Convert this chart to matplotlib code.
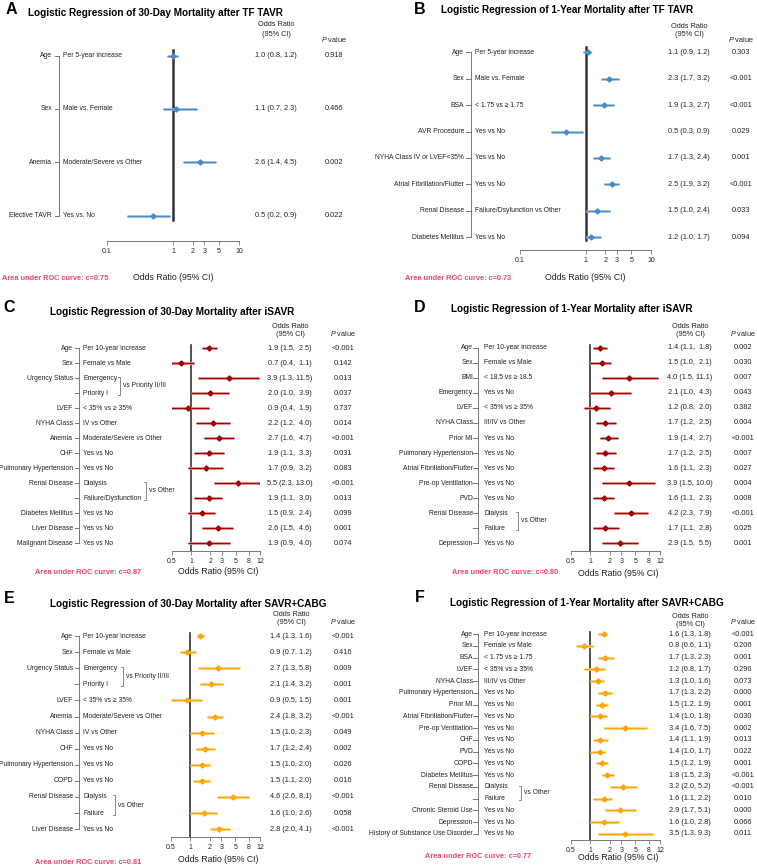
import numpy as np
import matplotlib
matplotlib.use("Agg")
import matplotlib.pyplot as plt
from matplotlib import transforms
from matplotlib.lines import Line2D

# ---------------------------------------------------
# DATA
# ---------------------------------------------------

# A: 30-day mortality after TF TAVR
a_title = "Logistic Regression of 30-Day Mortality after TF TAVR"
a_labels = ["Age", "Sex", "Anemia", "Elective TAVR"]
a_subs = ["Per 5-year increase", "Male vs. Female", "Moderate/Severe vs Other", "Yes vs. No"]
a_or = [1.0, 1.1, 2.6, 0.5]
a_lo = [0.8, 0.7, 1.4, 0.2]
a_hi = [1.2, 2.3, 4.5, 0.9]
a_p = ["0.918", "0.466", "0.002", "0.022"]
a_groups = []
a_auc = "Area under ROC curve: c=0.75"

# B: 1-year mortality after TF TAVR
b_title = "Logistic Regression of 1-Year Mortality after TF TAVR"
b_labels = ["Age", "Sex", "BSA", "AVR Procedure", "NYHA Class IV or LVEF<35%",
            "Atrial Fibrillation/Flutter", "Renal Disease", "Diabetes Mellitus"]
b_subs = ["Per 5-year increase", "Male vs. Female", "< 1.75 vs \u2265 1.75", "Yes vs No",
          "Yes vs No", "Yes vs No", "Failure/Dsyfunction vs Other", "Yes vs No"]
b_or = [1.1, 2.3, 1.9, 0.5, 1.7, 2.5, 1.5, 1.2]
b_lo = [0.9, 1.7, 1.3, 0.3, 1.3, 1.9, 1.0, 1.0]
b_hi = [1.2, 3.2, 2.7, 0.9, 2.4, 3.2, 2.4, 1.7]
b_p = ["0.303", "<0.001", "<0.001", "0.029", "0.001", "<0.001", "0.033", "0.094"]
b_groups = []
b_auc = "Area under ROC curve: c=0.73"

# C: 30-day mortality after iSAVR
c_title = "Logistic Regression of 30-Day Mortality after iSAVR"
c_labels = ["Age", "Sex", "Urgency Status", "", "LVEF", "NYHA Class", "Anemia", "CHF",
            "Pulmonary Hypertension", "Renal Disease", "", "Diabetes Mellitus",
            "Liver Disease", "Malignant Disease"]
c_subs = ["Per 10-year increase", "Female vs Male", "Emergency", "Priority I",
          "< 35% vs \u2265 35%", "IV vs Other", "Moderate/Severe vs Other", "Yes vs No",
          "Yes vs No", "Dialysis", "Failure/Dysfunction", "Yes vs No", "Yes vs No", "Yes vs No"]
c_or = [1.9, 0.7, 3.9, 2.0, 0.9, 2.2, 2.7, 1.9, 1.7, 5.5, 1.9, 1.5, 2.6, 1.9]
c_lo = [1.5, 0.4, 1.3, 1.0, 0.4, 1.2, 1.6, 1.1, 0.9, 2.3, 1.1, 0.9, 1.5, 0.9]
c_hi = [2.5, 1.1, 11.5, 3.9, 1.9, 4.0, 4.7, 3.3, 3.2, 13.0, 3.0, 2.4, 4.6, 4.0]
c_p = ["<0.001", "0.142", "0.013", "0.037", "0.737", "0.014", "<0.001", "0.031",
       "0.083", "<0.001", "0.013", "0.099", "0.001", "0.074"]
c_groups = [(2, "vs Priority II/III"), (9, "vs Other")]
c_auc = "Area under ROC curve: c=0.87"

# D: 1-year mortality after iSAVR
d_title = "Logistic Regression of 1-Year Mortality after iSAVR"
d_labels = ["Age", "Sex", "BMI", "Emergency", "LVEF", "NYHA Class", "Prior MI",
            "Pulmonary Hypertension", "Atrial Fibrillation/Flutter", "Pre-op Ventilation",
            "PVD", "Renal Disease", "", "Depression"]
d_subs = ["Per 10-year increase", "Female vs Male", "< 18.5 vs \u2265 18.5", "Yes vs No",
          "< 35% vs \u2265 35%", "III/IV vs Other", "Yes vs No", "Yes vs No", "Yes vs No",
          "Yes vs No", "Yes vs No", "Dialysis", "Failure", "Yes vs No"]
d_or = [1.4, 1.5, 4.0, 2.1, 1.2, 1.7, 1.9, 1.7, 1.6, 3.9, 1.6, 4.2, 1.7, 2.9]
d_lo = [1.1, 1.0, 1.5, 1.0, 0.8, 1.2, 1.4, 1.2, 1.1, 1.5, 1.1, 2.3, 1.1, 1.5]
d_hi = [1.8, 2.1, 11.1, 4.3, 2.0, 2.5, 2.7, 2.5, 2.3, 10.0, 2.3, 7.9, 2.8, 5.5]
d_p = ["0.002", "0.030", "0.007", "0.043", "0.382", "0.004", "<0.001", "0.007",
       "0.027", "0.004", "0.008", "<0.001", "0.025", "0.001"]
d_groups = [(11, "vs Other")]
d_auc = "Area under ROC curve: c=0.80"

# E: 30-day mortality after SAVR+CABG
e_title = "Logistic Regression of 30-Day Mortality after SAVR+CABG"
e_labels = ["Age", "Sex", "Urgency Status", "", "LVEF", "Anemia", "NYHA Class", "CHF",
            "Pulmonary Hypertension", "COPD", "Renal Disease", "", "Liver Disease"]
e_subs = ["Per 10-year increase", "Female vs Male", "Emergency", "Priority I",
          "< 35% vs \u2265 35%", "Moderate/Severe vs Other", "IV vs Other", "Yes vs No",
          "Yes vs No", "Yes vs No", "Dialysis", "Failure", "Yes vs No"]
e_or = [1.4, 0.9, 2.7, 2.1, 0.9, 2.4, 1.5, 1.7, 1.5, 1.5, 4.6, 1.6, 2.8]
e_lo = [1.3, 0.7, 1.3, 1.4, 0.5, 1.8, 1.0, 1.2, 1.0, 1.1, 2.6, 1.0, 2.0]
e_hi = [1.6, 1.2, 5.8, 3.2, 1.5, 3.2, 2.3, 2.4, 2.0, 2.0, 8.1, 2.6, 4.1]
e_p = ["<0.001", "0.416", "0.009", "0.001", "0.601", "<0.001", "0.049", "0.002",
       "0.026", "0.016", "<0.001", "0.058", "<0.001"]
e_groups = [(2, "vs Priority II/III"), (10, "vs Other")]
e_auc = "Area under ROC curve: c=0.81"

# F: 1-year mortality after SAVR+CABG
f_title = "Logistic Regression of 1-Year Mortality after SAVR+CABG"
f_labels = ["Age", "Sex", "BSA", "LVEF", "NYHA Class", "Pulmonary Hypertension", "Prior MI",
            "Atrial Fibrillation/Flutter", "Pre-op Ventilation", "CHF", "PVD", "COPD",
            "Diabetes Mellitus", "Renal Disease", "", "Chronic Steroid Use", "Depression",
            "History of Substance Use Disorder"]
f_subs = ["Per 10-year increase", "Female vs Male", "< 1.75 vs \u2265 1.75",
          "< 35% vs \u2265 35%", "III/IV vs Other", "Yes vs No", "Yes vs No", "Yes vs No",
          "Yes vs No", "Yes vs No", "Yes vs No", "Yes vs No", "Yes vs No", "Dialysis",
          "Failure", "Yes vs No", "Yes vs No", "Yes vs No"]
f_or = [1.6, 0.8, 1.7, 1.2, 1.3, 1.7, 1.5, 1.4, 3.4, 1.4, 1.4, 1.5, 1.8, 3.2, 1.6, 2.9, 1.6, 3.5]
f_lo = [1.3, 0.6, 1.3, 0.8, 1.0, 1.3, 1.2, 1.0, 1.6, 1.1, 1.0, 1.2, 1.5, 2.0, 1.1, 1.7, 1.0, 1.3]
f_hi = [1.8, 1.1, 2.3, 1.7, 1.6, 2.2, 1.9, 1.8, 7.5, 1.9, 1.7, 1.9, 2.3, 5.2, 2.2, 5.1, 2.8, 9.3]
f_p = ["<0.001", "0.206", "0.001", "0.296", "0.073", "0.000", "0.001", "0.030", "0.002",
       "0.013", "0.022", "0.001", "<0.001", "<0.001", "0.010", "0.000", "0.066", "0.011"]
f_groups = [(13, "vs Other")]
f_auc = "Area under ROC curve: c=0.77"

ticks_wide = [0.1, 1, 2, 3, 5, 10]
ticks_narrow = [0.5, 1, 2, 3, 5, 8, 12]

# ---------------------------------------------------
# STYLE
# ---------------------------------------------------

plt.rcParams["font.family"] = ["Liberation Sans", "DejaVu Sans"]
plt.rcParams["mathtext.fontset"] = "custom"
plt.rcParams["mathtext.it"] = "Liberation Sans:italic"
plt.rcParams["mathtext.rm"] = "Liberation Sans"

W, H = 757, 867
fig = plt.figure(figsize=(W / 100, H / 100), dpi=100)

TXT = "#222222"
AUC_COL = "#e8466c"


def fx(px):
    return px / W


def fy(py):
    return 1 - py / H


def draw_panel(lay, letter, title, labels, subs, ors, los, his, pvals, groups, auc,
               color, light):
    x0, x1 = lay["ax_x"]
    axis_y = lay["axis_y"]
    top = lay["row0"] - lay["sp"]
    r0, sp = lay["row0"], lay["sp"]

    ax = fig.add_axes([fx(x0), fy(axis_y), (x1 - x0) / W, (axis_y - top) / H])
    ax.set_xscale("log")
    ax.set_xlim(lay["xlim"])
    ax.set_ylim((axis_y - r0) / sp, (top - r0) / sp)
    ax.patch.set_alpha(0)

    n = len(labels)
    rows = np.arange(n)

    # reference line at OR = 1
    ax.plot([1, 1], [(lay["ref"][0] - r0) / sp, (lay["ref"][1] - r0) / sp],
            color="#333333", lw=lay["ref_lw"], zorder=1)

    # confidence intervals and point estimates
    for i in rows:
        ax.plot([los[i], his[i]], [i, i], color=light, lw=2.0,
                solid_capstyle="butt", zorder=2)
        ax.plot([los[i], his[i]], [i, i], color=color, lw=0.9,
                solid_capstyle="butt", zorder=3)
    ax.plot(ors, rows, "D", ms=2.6, color=color, mec=color, zorder=4)

    # axis styling
    for s in ["left", "right", "top"]:
        ax.spines[s].set_visible(False)
    ax.spines["bottom"].set_color("#777777")
    ax.spines["bottom"].set_linewidth(0.7)
    ax.spines["bottom"].set_bounds(*lay["xlim"])
    ax.set_yticks([])
    ax.set_xticks(lay["ticks"])
    ax.set_xticklabels([("%g" % t) for t in lay["ticks"]])
    ax.xaxis.set_minor_locator(matplotlib.ticker.NullLocator())
    ax.tick_params(axis="x", colors="#777777", labelcolor=TXT, labelsize=5,
                   length=3, width=0.6, pad=2)

    tr = transforms.blended_transform_factory(fig.transFigure, ax.transData)

    # row labels, ticks, bracket
    bx = lay["bracket_x"]
    for i in rows:
        ax.text(fx(lay["label_r"]), i, labels[i], transform=tr, ha="right",
                va="center", fontsize=4.9, color=TXT)
        ax.text(fx(lay["sub_x"]), i, subs[i], transform=tr, ha="left",
                va="center", fontsize=4.9, color=TXT)
        fig.add_artist(Line2D([fx(bx - 4.5), fx(bx)], [i, i], transform=tr,
                              color="#777777", lw=0.7))
        if lay["pad"]:
            ci = "%.1f (%.1f, %4.1f)" % (ors[i], los[i], his[i])
        else:
            ci = "%.1f (%.1f, %.1f)" % (ors[i], los[i], his[i])
        ax.text(fx(lay["or_x"]), i, ci, transform=tr, ha="center", va="center",
                fontsize=5.3, color=TXT)
        ax.text(fx(lay["p_x"]), i, pvals[i], transform=tr, ha="center",
                va="center", fontsize=5.3, color=TXT)
    fig.add_artist(Line2D([fx(bx), fx(bx)], [0, n - 1], transform=tr,
                          color="#777777", lw=0.7))

    # grouped comparisons
    for (g, txt), gx in zip(groups, lay["group_x"]):
        fig.add_artist(Line2D([fx(gx - 2), fx(gx), fx(gx), fx(gx - 2)],
                              [g - 0.1, g - 0.1, g + 1.1, g + 1.1], transform=tr,
                              color="#777777", lw=0.6))
        ax.text(fx(gx + 3), g + 0.5, txt, transform=tr, ha="left", va="center",
                fontsize=4.9, color=TXT)

    # headers and titles
    fig.text(fx(lay["or_x"]), fy(lay["hdr"][0]), "Odds Ratio", ha="center",
             va="center", fontsize=5.3, color=TXT)
    fig.text(fx(lay["or_x"]), fy(lay["hdr"][1]), "(95% CI)", ha="center",
             va="center", fontsize=5.3, color=TXT)
    fig.text(fx(lay["p_x"]), fy(lay["hdr"][2]), r"$\mathit{P}$ value", ha="center",
             va="center", fontsize=5.3, color=TXT)
    fig.text(fx(lay["letter"][0]), fy(lay["letter"][1]), letter, ha="center",
             va="center", fontsize=11.5, fontweight="bold", color="black")
    fig.text(fx(lay["title"][0]), fy(lay["title"][1]), title, ha="left",
             va="center", fontsize=7.2, fontweight="bold", color="black")
    fig.text(fx(lay["auc"][0]), fy(lay["auc"][1]), auc, ha="left", va="center",
             fontsize=5.3, fontweight="bold", color=AUC_COL)
    fig.text(fx(lay["xlab"][0]), fy(lay["xlab"][1]), "Odds Ratio (95% CI)",
             ha="center", va="center", fontsize=6.3, color=TXT)


# ---------------------------------------------------
# LAYOUT (pixel positions)
# ---------------------------------------------------

lay_a = dict(ax_x=(107, 239), xlim=(0.1, 10), ticks=ticks_wide, axis_y=241,
             row0=55.7, sp=53.3, ref=(50, 220), ref_lw=1.8, label_r=52,
             bracket_x=59, sub_x=63, or_x=276, p_x=334, hdr=(25, 34, 40),
             letter=(11, 10), title=(28, 13), auc=(2, 278), xlab=(173, 277),
             pad=False, group_x=[])
lay_b = dict(ax_x=(520, 651), xlim=(0.1, 10), ticks=ticks_wide, axis_y=250,
             row0=52.3, sp=26.4, ref=(47, 240), ref_lw=1.8, label_r=464,
             bracket_x=471, sub_x=475, or_x=689, p_x=741, hdr=(27, 34, 39.5),
             letter=(420, 9.5), title=(441, 10), auc=(405, 279), xlab=(585, 278),
             pad=False, group_x=[])
lay_c = dict(ax_x=(172, 260), xlim=(0.5, 12), ticks=ticks_narrow, axis_y=551,
             row0=348.3, sp=15.0, ref=(345, 551), ref_lw=1.2, label_r=73,
             bracket_x=79, sub_x=83, or_x=290, p_x=343, hdr=(327, 335, 333),
             letter=(9, 307), title=(50, 312), auc=(35, 573), xlab=(218, 572),
             pad=True, group_x=[120, 146])
lay_d = dict(ax_x=(571, 660), xlim=(0.5, 12), ticks=ticks_narrow, axis_y=551,
             row0=347.7, sp=15.05, ref=(345, 551), ref_lw=1.2, label_r=473,
             bracket_x=478, sub_x=484, or_x=690, p_x=743, hdr=(327, 335, 333),
             letter=(420, 308), title=(451, 309.5), auc=(452, 573), xlab=(618, 573),
             pad=True, group_x=[518])
lay_e = dict(ax_x=(171, 260), xlim=(0.5, 12), ticks=ticks_narrow, axis_y=837,
             row0=636, sp=16.1, ref=(633, 837), ref_lw=1.2, label_r=73,
             bracket_x=79, sub_x=83, or_x=291, p_x=343, hdr=(614, 622, 621),
             letter=(9.5, 598.5), title=(50, 604), auc=(35, 862), xlab=(218, 860),
             pad=False, group_x=[123, 115])
lay_f = dict(ax_x=(571, 660), xlim=(0.5, 12), ticks=ticks_narrow, axis_y=840,
             row0=634, sp=11.76, ref=(632, 840), ref_lw=1.2, label_r=473,
             bracket_x=478, sub_x=484, or_x=690, p_x=743, hdr=(616, 624, 622),
             letter=(420, 598), title=(450, 603), auc=(425, 857), xlab=(618, 857),
             pad=False, group_x=[521])

BLUE, BLUE_L = "#4a8bc6", "#a9c8e6"
RED, RED_L = "#a50000", "#dfa0a0"
ORANGE, ORANGE_L = "#ffa500", "#ffd48a"

draw_panel(lay_a, "A", a_title, a_labels, a_subs, a_or, a_lo, a_hi, a_p, a_groups,
           a_auc, BLUE, BLUE_L)
draw_panel(lay_b, "B", b_title, b_labels, b_subs, b_or, b_lo, b_hi, b_p, b_groups,
           b_auc, BLUE, BLUE_L)
draw_panel(lay_c, "C", c_title, c_labels, c_subs, c_or, c_lo, c_hi, c_p, c_groups,
           c_auc, RED, RED_L)
draw_panel(lay_d, "D", d_title, d_labels, d_subs, d_or, d_lo, d_hi, d_p, d_groups,
           d_auc, RED, RED_L)
draw_panel(lay_e, "E", e_title, e_labels, e_subs, e_or, e_lo, e_hi, e_p, e_groups,
           e_auc, ORANGE, ORANGE_L)
draw_panel(lay_f, "F", f_title, f_labels, f_subs, f_or, f_lo, f_hi, f_p, f_groups,
           f_auc, ORANGE, ORANGE_L)

plt.savefig("out.png", dpi=100)
